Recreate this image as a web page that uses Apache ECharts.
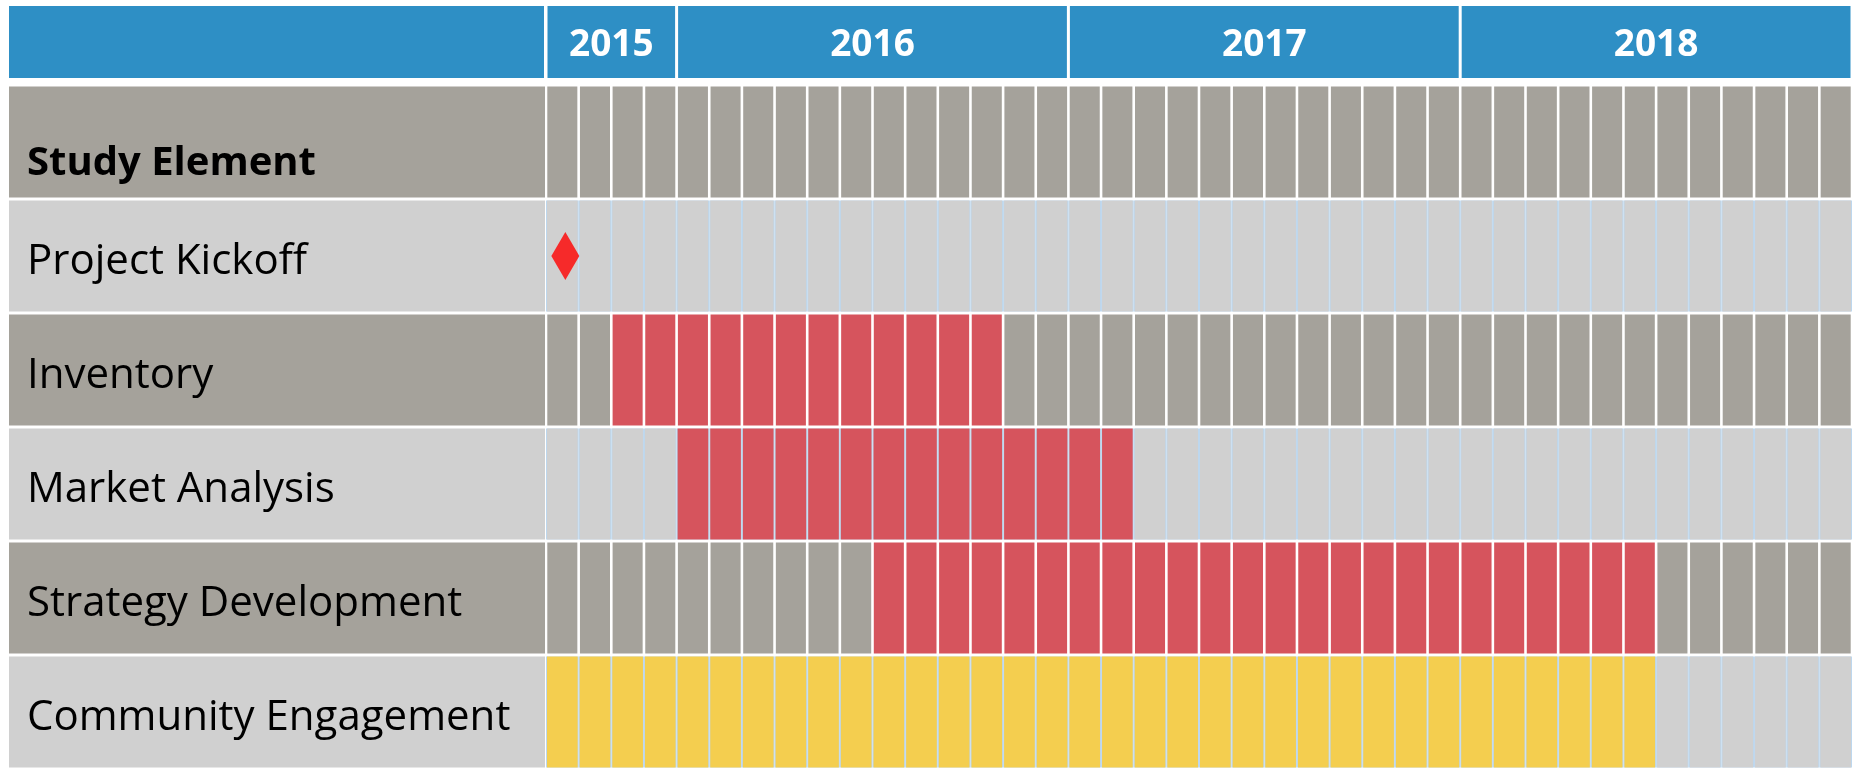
<!DOCTYPE html>
<html>
<head>
<meta charset="utf-8">
<script src="https://cdn.jsdelivr.net/npm/echarts@6/dist/echarts.min.js"></script>
<style>
  html, body { margin: 0; padding: 0; background: #fff; }
  #main { width: 1856px; height: 769px; }
</style>
</head>
<body>
<div id="main"></div>
<script>
// timeline
const years = ['2015', '2016', '2017', '2018'];
const yearMonths = [4, 12, 12, 12];
const months = [
  'Sep 2015', 'Oct 2015', 'Nov 2015', 'Dec 2015',
  'Jan 2016', 'Feb 2016', 'Mar 2016', 'Apr 2016', 'May 2016', 'Jun 2016',
  'Jul 2016', 'Aug 2016', 'Sep 2016', 'Oct 2016', 'Nov 2016', 'Dec 2016',
  'Jan 2017', 'Feb 2017', 'Mar 2017', 'Apr 2017', 'May 2017', 'Jun 2017',
  'Jul 2017', 'Aug 2017', 'Sep 2017', 'Oct 2017', 'Nov 2017', 'Dec 2017',
  'Jan 2018', 'Feb 2018', 'Mar 2018', 'Apr 2018', 'May 2018', 'Jun 2018',
  'Jul 2018', 'Aug 2018', 'Sep 2018', 'Oct 2018', 'Nov 2018', 'Dec 2018'
];

// rows of the table (first one is the column title)
const rows = ['Study Element', 'Project Kickoff', 'Inventory', 'Market Analysis',
  'Strategy Development', 'Community Engagement'];

// milestones: [row, month index]
const milestones = [['Project Kickoff', 0]];

// tasks: start / end month index (inclusive)
const tasks = ['Inventory', 'Market Analysis', 'Strategy Development', 'Community Engagement'];
const taskStart = [2, 4, 10, 0];
const taskEnd = [13, 17, 33, 33];
const taskType = [1, 1, 1, 2]; // 1 = work, 2 = engagement

const C = {
  blue: '#2E8FC5',
  dark: '#A5A29B',
  light: '#D0D0D0',
  work: '#D6545D',
  engage: '#F4CE4F',
  sepLight: '#BDD7EE',
  diamond: '#FF0000'
};
const FONT = '"Open Sans", "Noto Sans", sans-serif';

// one cell per row and month
const cells = [];
rows.forEach((row, r) => {
  const t = tasks.indexOf(row);
  months.forEach((m, i) => {
    let kind = 0;
    if (t >= 0 && i >= taskStart[t] && i <= taskEnd[t]) kind = taskType[t];
    cells.push([i, r, kind]);
  });
});

const yearData = [];
let acc = 0;
years.forEach((y, i) => {
  yearData.push([acc, acc + yearMonths[i] - 1, 0]);
  acc += yearMonths[i];
});

function renderYear(params, api) {
  const a = api.coord([api.value(0), 0]);
  const b = api.coord([api.value(1), 0]);
  const s = api.size([1, 1]);
  const x0 = a[0] - s[0] / 2 + 1.5;
  const x1 = b[0] + s[0] / 2 - 1.5;
  const y0 = a[1] - s[1] / 2;
  return {
    type: 'group',
    children: [
      { type: 'rect', shape: { x: x0, y: y0, width: x1 - x0, height: s[1] }, style: { fill: C.blue } },
      {
        type: 'text',
        style: {
          text: years[params.dataIndex], x: (x0 + x1) / 2, y: a[1] + 3,
          fill: '#fff', font: 'bold 37px ' + FONT, align: 'center', verticalAlign: 'middle'
        }
      }
    ]
  };
}

function renderCell(params, api) {
  const m = api.value(0), r = api.value(1), kind = api.value(2);
  const c = api.coord([m, r]);
  const s = api.size([1, 1]);
  const x0 = c[0] - s[0] / 2, y0 = c[1] - s[1] / 2;
  const darkRow = r % 2 === 0;
  const fill = kind === 1 ? C.work : kind === 2 ? C.engage : (darkRow ? C.dark : C.light);
  const gap = darkRow ? 1.3 : 1;
  return {
    type: 'group',
    children: [
      { type: 'rect', shape: { x: x0, y: y0 + 1.5, width: s[0], height: s[1] - 3 },
        style: { fill: darkRow ? '#fff' : C.sepLight } },
      { type: 'rect', shape: { x: x0 + gap, y: y0 + 1.5, width: s[0] - 2 * gap, height: s[1] - 3 },
        style: { fill: fill } }
    ]
  };
}

function renderLabel(params, api) {
  const r = api.value(1);
  const c = api.coord([0, r]);
  const s = api.size([1, 1]);
  const x0 = c[0] - s[0] / 2, y0 = c[1] - s[1] / 2;
  const darkRow = r % 2 === 0;
  return {
    type: 'group',
    children: [
      { type: 'rect', shape: { x: x0, y: y0 + 1.5, width: s[0], height: s[1] - 3 },
        style: { fill: darkRow ? C.dark : C.light } },
      {
        type: 'text',
        style: {
          text: rows[r], x: x0 + 18, y: c[1] + (r === 0 ? 22 : 6),
          fill: '#000', font: r === 0 ? 'bold 40px ' + FONT : '42px ' + FONT,
          align: 'left', verticalAlign: 'middle'
        }
      }
    ]
  };
}

const chart = echarts.init(document.getElementById('main'));

const option = {
  animation: false,
  backgroundColor: '#fff',
  graphic: [
    { type: 'rect', left: 9, top: 6, shape: { width: 535, height: 72 }, style: { fill: C.blue } }
  ],
  grid: [
    { left: 546, right: 4, top: 6, height: 72 },
    { left: 546, right: 4, top: 85, bottom: 0 },
    { left: 9, width: 536, top: 85, bottom: 0 }
  ],
  xAxis: [
    { gridIndex: 0, type: 'category', data: months, show: false },
    { gridIndex: 1, type: 'category', data: months, show: false },
    { gridIndex: 2, type: 'category', data: ['label'], show: false }
  ],
  yAxis: [
    { gridIndex: 0, type: 'category', data: ['year'], show: false },
    { gridIndex: 1, type: 'category', data: rows, inverse: true, show: false },
    { gridIndex: 2, type: 'category', data: rows, inverse: true, show: false }
  ],
  series: [
    {
      type: 'custom', name: 'years', xAxisIndex: 0, yAxisIndex: 0,
      encode: { x: [0, 1], y: 2 },
      renderItem: renderYear, data: yearData
    },
    {
      type: 'custom', name: 'labels', xAxisIndex: 2, yAxisIndex: 2,
      renderItem: renderLabel, data: rows.map((r, i) => [0, i])
    },
    {
      type: 'custom', name: 'cells', xAxisIndex: 1, yAxisIndex: 1,
      renderItem: renderCell, data: cells
    },
    {
      type: 'scatter', name: 'milestones', xAxisIndex: 1, yAxisIndex: 1,
      symbol: 'diamond', symbolSize: [28, 48], symbolOffset: [3, 0],
      itemStyle: { color: C.diamond },
      data: milestones.map(d => [months[d[1]], d[0]]),
      z: 5
    }
  ]
};

chart.setOption(option);
</script>
</body>
</html>
